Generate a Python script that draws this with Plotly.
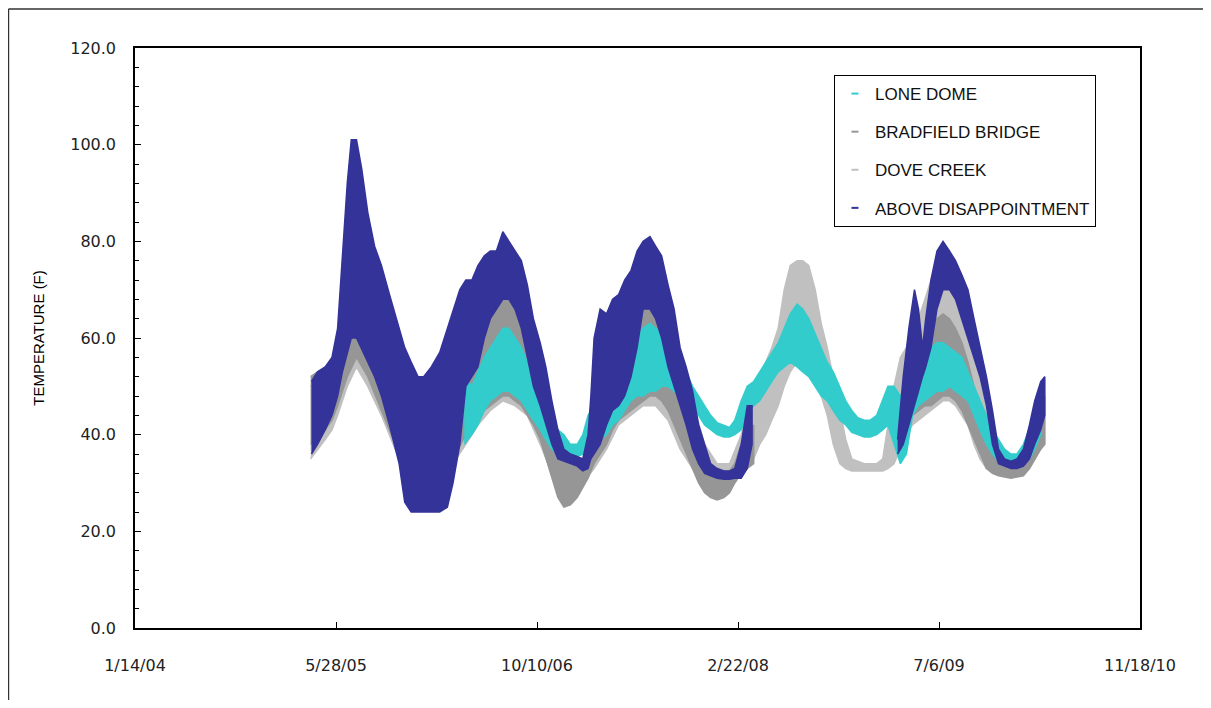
import plotly.graph_objects as go

# ---- data: envelopes (low / high) of each sensor's temperature cloud ----
# None marks a gap in the record

lone_dome_dates = [
    '2006-04-12', '2006-05-01', '2006-05-16', '2006-06-01', '2006-06-16', '2006-07-01', '2006-07-17',
    '2006-08-01', '2006-08-16', '2006-09-01', '2006-09-16', '2006-10-01', '2006-10-18', '2006-11-01',
    '2006-11-16', '2006-12-01', '2006-12-16', '2007-01-01', '2007-01-18', '2007-02-01', '2007-02-14',
    '2007-03-01', '2007-03-16', '2007-04-01', '2007-04-16', '2007-05-01', '2007-05-16', '2007-06-01',
    '2007-06-16', '2007-07-01', '2007-07-18', '2007-08-01', '2007-08-16', '2007-09-01', '2007-09-16',
    '2007-10-01', '2007-10-16', '2007-11-01', '2007-11-16', '2007-12-01', '2007-12-16', '2008-01-01',
    '2008-01-18', '2008-02-01', '2008-02-14', '2008-03-01', '2008-03-16', '2008-04-01', '2008-04-16',
    '2008-05-01', '2008-05-16', '2008-06-01', '2008-06-16', '2008-07-01', '2008-07-18', '2008-08-01',
    '2008-08-16', '2008-09-01', '2008-09-16', '2008-10-01', '2008-10-16', '2008-11-01', '2008-11-16',
    '2008-12-01', '2008-12-16', '2009-01-01', '2009-01-16', '2009-02-01', '2009-02-16', '2009-03-01',
    '2009-03-16', '2009-04-01', '2009-04-16', '2009-05-01', '2009-05-16', '2009-06-01', '2009-06-16',
    '2009-07-01', '2009-07-16', '2009-08-01', '2009-08-16', '2009-09-01', '2009-09-16', '2009-10-01',
    '2009-10-16', '2009-11-01', '2009-11-16', '2009-12-01', '2009-12-16', '2010-01-01', '2010-01-16',
    '2010-02-01', '2010-02-16', '2010-03-01', '2010-03-16',
]
lone_dome_low = [
    38, 40, 42, 45, 47, 48, 49, 49, 48, 47, 45, 43, 41, 39, 37, 36, 35.5, 35.5, 35.5, 36, 37,
    38, 39, 40, 42, 43, 45, 47, 48, 48, 49, 49, 50, 50, 49, 48, 47, 46, 44, 42, 41, 40,
    39.5, 39.5, 40, 41, 44, 46, 47, 49, 51, 53, 54, 55, 54, 53, 52, 50, 48, 47, 45, 43, 42,
    40.5, 40, 39.5, 39.5, 40, 41, 42, 38, 34, 36, 44, 46, 47, 48, 49, 49, 50, 49, 48, 47, 44,
    41, 38, 36, 34.5, 34, 33.5, 33.5, 34, 35, 37, 40,
]
lone_dome_high = [
    52, 50, 53, 56, 58, 60, 62, 62, 60, 58, 55, 52, 49, 46, 43, 41, 40, 38, 38, 40, 44,
    46, 48, 50, 52, 55, 57, 58, 60, 62, 63, 62, 61, 59, 57, 55, 53, 50, 48, 46, 44, 42.5,
    42, 41.5, 43, 47, 50, 51, 53, 55, 57, 59, 62, 65, 67, 66, 64, 61, 58, 55, 53, 50, 47,
    45, 43.5, 43, 43, 44, 47, 50, 50, 48, 50, 52, 54, 56, 58, 59, 59, 58, 57, 56, 53, 50,
    47, 44, 41, 39, 37, 36, 36, 38, 41, 44, 46,
]

bradfield_dates = [
    '2005-03-26', '2005-04-12', '2005-05-01', '2005-05-18', '2005-06-01', '2005-06-25', '2005-07-18',
    '2005-08-15', '2005-09-18', '2005-11-01', '2005-12-01', '2006-01-01', '2006-02-10', '2006-03-15',
    '2006-04-16', '2006-05-01', '2006-05-16', '2006-06-01', '2006-06-16', '2006-07-01', '2006-07-17',
    '2006-08-01', '2006-08-16', '2006-09-01', '2006-09-16', '2006-10-01', '2006-10-18', '2006-11-01',
    '2006-11-16', '2006-12-01', '2006-12-16', '2007-01-01', '2007-01-18', '2007-02-01', '2007-02-14',
    '2007-03-01', '2007-03-16', '2007-04-01', '2007-04-16', '2007-05-01', '2007-05-16', '2007-06-01',
    '2007-06-16', '2007-07-01', '2007-07-18', '2007-08-01', '2007-08-16', '2007-09-01', '2007-09-16',
    '2007-10-01', '2007-10-16', '2007-11-01', '2007-11-16', '2007-12-01', '2007-12-16', '2008-01-01',
    '2008-01-18', '2008-02-01', '2008-02-14', '2008-03-01', '2008-03-16', '2008-04-01', None,
    '2009-04-01', '2009-04-16', '2009-05-01', '2009-05-16', '2009-06-01', '2009-06-16', '2009-07-01',
    '2009-07-16', '2009-08-01', '2009-08-16', '2009-09-01', '2009-09-16', '2009-10-01', '2009-10-16',
    '2009-11-01', '2009-11-16', '2009-12-01', '2010-01-01', '2010-02-01', '2010-02-16', '2010-03-01',
    '2010-03-16', '2010-03-26',
]
bradfield_low = [
    38, 39, 41, 43, 46, 52, 56, 52, 45, 36, 32, 31, 32, 35, 40, 42, 44, 45, 46, 47, 48,
    48, 47, 46, 44, 42, 39, 35, 31, 27, 25, 25.5, 27, 29, 31, 34, 36, 38, 41, 43, 44, 45,
    46, 47, 48, 48, 47, 45, 42, 39, 36, 33, 30, 28, 27, 26.5, 27, 28, 30, 32, 33, 34, None,
    40, 42, 44, 45, 46, 46, 47, 48, 48, 47, 45, 42, 39, 36, 33, 32, 31.5, 31, 31.5, 33, 35,
    37, 38,
]
bradfield_high = [
    52, 53, 52, 54, 58, 68, 72, 70, 64, 55, 48, 44, 46, 52, 55, 56, 58, 62, 66, 69, 72,
    70, 67, 64, 62, 58, 54, 48, 43, 38, 35, 34, 34, 34, 38, 48, 54, 60, 62, 64, 65, 66,
    68, 69, 70, 69, 65, 60, 55, 51, 48, 45, 40, 35, 33.5, 33, 32.5, 32.5, 34, 38, 41, 42, None,
    47, 52, 56, 57, 60, 62, 64, 65, 64, 62, 59, 55, 50, 46, 42, 38, 35, 34, 35, 38, 42,
    46, 48,
]

dove_creek_dates = [
    '2005-03-26', '2005-04-12', '2005-05-01', '2005-05-18', '2005-06-01', '2005-06-25', '2005-07-18',
    '2005-08-15', '2005-09-18', '2005-11-01', '2005-12-01', '2006-01-01', '2006-02-10', '2006-03-15',
    '2006-04-16', '2006-05-16', '2006-06-16', '2006-07-17', '2006-08-16', '2006-09-16', '2006-10-18',
    '2006-11-16', '2006-12-01', '2007-01-01', '2007-02-01', '2007-03-01', '2007-04-01', '2007-05-01',
    '2007-06-01', '2007-07-01', '2007-08-01', '2007-09-01', '2007-10-01', '2007-11-01', '2007-12-01',
    '2008-01-01', '2008-02-01', '2008-03-01', '2008-03-16', '2008-04-01', '2008-04-16', '2008-05-01',
    '2008-05-16', '2008-06-01', '2008-06-16', '2008-07-01', '2008-07-18', '2008-08-01', '2008-08-16',
    '2008-09-01', '2008-09-16', '2008-10-01', '2008-10-16', '2008-11-01', '2008-11-16', '2008-12-01',
    '2009-01-01', '2009-02-01', '2009-02-16', '2009-03-01', '2009-03-16', '2009-04-01', '2009-04-16',
    '2009-05-01', '2009-05-16', '2009-06-01', '2009-06-16', '2009-07-01', '2009-07-16', '2009-08-01',
    '2009-08-16', '2009-09-01', '2009-09-16', '2009-10-01', '2009-10-16', '2009-11-01', '2009-11-16',
    '2009-12-01', '2010-01-01', '2010-02-01', '2010-02-16', '2010-03-01', '2010-03-16', '2010-03-26',
]
dove_creek_low = [
    35, 37, 39, 41, 44, 50, 54, 50, 44, 35, 31, 30, 31, 34, 38, 42, 45, 47, 46, 44, 38,
    32, 30, 29, 30, 33, 37, 42, 44, 46, 46, 43, 37, 33, 30, 29, 30, 32, 33, 35, 38, 40,
    43, 46, 50, 53, 55, 56, 55, 53, 48, 44, 38, 34, 33, 32.5, 32.5, 32.5, 32.5, 33, 34, 37, 40,
    42, 43, 44, 45, 46, 47, 47, 46, 44, 42, 38, 35, 33, 32.5, 32, 32, 32, 33, 35, 37, 38,
]
dove_creek_high = [
    50, 52, 53, 54, 57, 66, 70, 68, 62, 53, 46, 42, 44, 50, 54, 58, 66, 72, 68, 63, 56,
    46, 40, 35, 35, 46, 58, 63, 66, 70, 70, 62, 53, 47, 38, 34, 34, 40, 45, 50, 52, 55,
    58, 62, 70, 75, 76, 76, 75, 70, 63, 58, 52, 45, 39, 35, 34, 34, 35, 42, 50, 56, 58,
    62, 64, 68, 72, 75, 77, 77, 75, 71, 65, 58, 52, 46, 40, 37, 35, 36, 39, 44, 48, 52,
]

above_dates = [
    '2005-03-28', '2005-04-12', '2005-05-01', '2005-05-18', '2005-06-01', '2005-06-13', '2005-06-25',
    '2005-07-05', '2005-07-18', '2005-07-31', '2005-08-15', '2005-09-01', '2005-09-18', '2005-10-08',
    '2005-11-01', '2005-11-15', '2005-12-01', '2005-12-18', '2006-01-01', '2006-01-20', '2006-02-10',
    '2006-03-01', '2006-03-15', '2006-04-01', '2006-04-16', '2006-05-01', '2006-05-16', '2006-06-01',
    '2006-06-16', '2006-07-01', '2006-07-17', '2006-08-01', '2006-08-16', '2006-09-01', '2006-09-16',
    '2006-10-01', '2006-10-18', '2006-11-01', '2006-11-16', '2006-12-01', '2006-12-16', '2007-01-01',
    '2007-01-18', '2007-02-01', '2007-02-14', '2007-02-21', '2007-03-01', '2007-03-16', '2007-04-01',
    '2007-04-16', '2007-05-01', '2007-05-16', '2007-06-01', '2007-06-16', '2007-07-01', '2007-07-18',
    '2007-08-01', '2007-08-16', '2007-09-01', '2007-09-16', '2007-10-01', '2007-10-16', '2007-11-01',
    '2007-11-16', '2007-12-01', '2007-12-16', '2008-01-01', '2008-01-18', '2008-02-01', '2008-02-14',
    '2008-03-01', '2008-03-16', '2008-03-28', None,
    '2009-03-25', '2009-04-08', '2009-04-22', '2009-05-06', '2009-05-16', '2009-05-26', '2009-06-03',
    '2009-06-16', '2009-07-01', '2009-07-16', '2009-08-01', '2009-08-16', '2009-09-01', '2009-09-16',
    '2009-10-01', '2009-10-16', '2009-11-01', '2009-11-16', '2009-12-01', '2009-12-16', '2010-01-01',
    '2010-01-16', '2010-02-01', '2010-02-16', '2010-03-01', '2010-03-16', '2010-03-26',
]
above_low = [
    36, 38, 41, 44, 48, 53, 57, 60, 60, 58, 55, 52, 48, 42, 34, 26, 24, 24, 24, 24, 24,
    25, 30, 38, 50, 52, 54, 60, 64, 66, 68, 68, 66, 62, 56, 50, 46, 42, 38, 35, 34.5, 34,
    33.5, 32.5, 33, 35, 36, 38, 42, 45, 46, 48, 52, 58, 66, 66, 64, 60, 54, 50, 46, 42, 37,
    34, 32, 31.5, 31, 30.8, 30.8, 31, 31, 33, 38, None,
    36, 38, 42, 46, 49, 52, 54, 58, 66, 70, 70, 68, 64, 60, 56, 52, 46, 38, 34, 33.5, 33,
    33, 33.5, 35, 38, 41, 44,
]
above_high = [
    51, 53, 54, 56, 62, 76, 92, 101, 101, 95, 86, 79, 75, 69, 62, 58, 55, 52, 52, 54, 57,
    62, 66, 70, 72, 72, 75, 77, 78, 78, 82, 80, 78, 76, 71, 64, 59, 54, 47, 41, 37, 36,
    35.5, 35, 40, 48, 60, 66, 65, 68, 69, 72, 74, 78, 80, 81, 79, 77, 71, 66, 58, 54, 49,
    42, 38, 34, 33, 32.5, 32.5, 33, 38, 46, 46, None,
    39, 52, 62, 70, 66, 58, 64, 72, 78, 80, 78, 76, 73, 70, 64, 58, 52, 45, 37, 35, 34.5,
    35, 37, 42, 47, 51, 52,
]

# x axis ticks (Excel date axis, 500-day major unit)
tick_dates = ['2004-01-14', '2005-05-28', '2006-10-10', '2008-02-22', '2009-07-06', '2010-11-18']
tick_labels = ['1/14/04', '5/28/05', '10/10/06', '2/22/08', '7/6/09', '11/18/10']

# drawing order: bottom first
series = [
    ('DOVE CREEK', dove_creek_dates, dove_creek_low, dove_creek_high, '#C0C0C0'),
    ('BRADFIELD BRIDGE', bradfield_dates, bradfield_low, bradfield_high, '#969696'),
    ('LONE DOME', lone_dome_dates, lone_dome_low, lone_dome_high, '#33CCCC'),
    ('ABOVE DISAPPOINTMENT', above_dates, above_low, above_high, '#333399'),
]
legend_order = ['LONE DOME', 'BRADFIELD BRIDGE', 'DOVE CREEK', 'ABOVE DISAPPOINTMENT']


def split_segments(dates, low, high):
    segs, cur = [], ([], [], [])
    for d, lo, hi in zip(dates, low, high):
        if d is None:
            if cur[0]:
                segs.append(cur)
            cur = ([], [], [])
            continue
        cur[0].append(d)
        cur[1].append(lo)
        cur[2].append(hi)
    if cur[0]:
        segs.append(cur)
    return segs


fig = go.Figure()
colors = {}

for name, dates, low, high, color in series:
    colors[name] = color
    for d, lo, hi in split_segments(dates, low, high):
        fig.add_trace(go.Scatter(
            x=d + d[::-1],
            y=hi + lo[::-1],
            mode='lines',
            fill='toself',
            fillcolor=color,
            line=dict(color=color, width=1.5),
            showlegend=False,
            hoverinfo='skip',
            name=name,
        ))

# legend-only entries (small dash markers like Excel)
for name in legend_order:
    fig.add_trace(go.Scatter(
        x=[None], y=[None],
        mode='markers',
        name=name,
        legendgroup=name,
        marker=dict(symbol='line-ew', size=5, line=dict(color=colors[name], width=2)),
    ))

# chart-area frame: only the left and top edges fall inside the window
frame = dict(color='#333333', width=1.5)

# page body has an 8px margin, so the figure is sized to sit inside the window
fig.update_layout(
    width=1195,
    height=692,
    margin=dict(l=127, r=63, t=40, b=72),
    paper_bgcolor='white',
    plot_bgcolor='white',
    font=dict(family='DejaVu Sans', size=16, color='#222222'),
    showlegend=True,
    legend=dict(
        x=0.6955, y=0.9534,
        xanchor='left', yanchor='top',
        bgcolor='white',
        bordercolor='black',
        borderwidth=1,
        traceorder='grouped',
        tracegroupgap=13,
        font=dict(family='Liberation Sans', size=17, color='#111111'),
    ),
    shapes=[
        dict(type='line', xref='paper', yref='paper',
             x0=-0.1259, x1=-0.1259, y0=-0.2, y1=1.0672, line=frame, layer='above'),
        dict(type='line', xref='paper', yref='paper',
             x0=-0.1259, x1=1.1, y0=1.0672, y1=1.0672, line=frame, layer='above'),
    ],
)

fig.update_xaxes(
    type='date',
    range=[tick_dates[0], tick_dates[-1]],
    tickmode='array',
    tickvals=tick_dates,
    ticktext=tick_labels,
    ticks='inside',
    ticklen=6,
    tickcolor='black',
    ticklabelstandoff=22,
    showline=True,
    linecolor='black',
    linewidth=1.5,
    mirror=True,
    showgrid=False,
    zeroline=False,
)

fig.update_yaxes(
    range=[0, 120],
    dtick=20,
    tickformat='.1f',
    ticks='inside',
    ticklen=6,
    tickcolor='black',
    ticklabelstandoff=14,
    minor=dict(dtick=4, ticks='inside', ticklen=4, tickcolor='black'),
    showline=True,
    linecolor='black',
    linewidth=1.5,
    mirror=True,
    showgrid=False,
    zeroline=False,
    title=dict(text='TEMPERATURE (F)', standoff=22,
               font=dict(family='Liberation Sans', size=15, color='black')),
)

fig.write_html('out.html')
